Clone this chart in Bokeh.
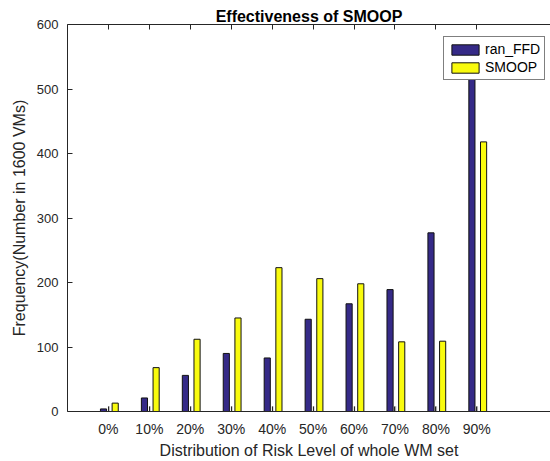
from bokeh.plotting import figure
from bokeh.models import ColumnDataSource, FixedTicker, LinearAxis, Range1d, Legend, LegendItem
from bokeh.transform import dodge
from bokeh.embed import file_html
from bokeh.resources import INLINE

# ---- data ----
categories = ["0%", "10%", "20%", "30%", "40%", "50%", "60%", "70%", "80%", "90%"]
positions = [1, 2, 3, 4, 5, 6, 7, 8, 9, 10]
ran_ffd = [4, 21, 56, 90, 83, 143, 167, 189, 277, 540]
smoop = [13, 68, 112, 145, 223, 206, 198, 108, 109, 418]
baseline = [8, 8, 8, 8, 8, 8, 8, 8, 8, 8]
y_ticks = [0, 100, 200, 300, 400, 500, 600]

src = ColumnDataSource(dict(x=positions, ran=ran_ffd, smoop=smoop, base=baseline))

FONT = "Liberation Sans"
AX = "#262626"

p = figure(width=550, height=461, output_backend="svg", toolbar_location=None,
           x_range=Range1d(0, 11.8), y_range=Range1d(0, 600),
           min_border_left=67, min_border_right=0, min_border_top=24, min_border_bottom=50,
           title="Effectiveness of SMOOP")
p.title.text_font = FONT
p.title.text_font_size = "16px"
p.title.text_font_style = "bold"
p.title.align = "center"
p.title.standoff = 0
p.title.text_color = "#000000"
p.outline_line_color = None
p.xgrid.visible = False
p.ygrid.visible = False
p.background_fill_color = "white"

r1 = p.vbar(x=dodge("x", -0.12, range=p.x_range), top="ran", width=0.15, bottom=0, source=src,
            fill_color="#352A87", line_color="#111111", line_width=1)
p.vbar(x=dodge("x", 0.01, range=p.x_range), top="base", width=0.04, bottom=0, source=src,
       fill_color="#a8a8a8", line_color=None)
r2 = p.vbar(x=dodge("x", 0.165, range=p.x_range), top="smoop", width=0.15, bottom=0, source=src,
            fill_color="#F9FB0E", line_color="#111111", line_width=1)

xa = p.xaxis[0]
xa.ticker = FixedTicker(ticks=positions)
xa.major_label_overrides = {pos: lab for pos, lab in zip(positions, categories)}
xa.axis_label = "Distribution of Risk Level of whole WM set"

ya = p.yaxis[0]
ya.ticker = FixedTicker(ticks=y_ticks)
ya.axis_label = "Frequency(Number in 1600 VMs)"

for ax in (xa, ya):
    ax.axis_line_color = AX
    ax.major_tick_line_color = AX
    ax.major_tick_in = 5
    ax.major_tick_out = 0
    ax.minor_tick_line_color = None
    ax.major_label_text_font = FONT
    ax.major_label_text_color = AX
    ax.axis_label_text_font = FONT
    ax.axis_label_text_font_size = "16px"
    ax.axis_label_text_font_style = "normal"
    ax.axis_label_text_color = AX
xa.major_label_text_font_size = "14px"
ya.major_label_text_font_size = "13px"
xa.major_label_standoff = 9
xa.axis_label_standoff = 2
ya.major_label_standoff = 9
ya.axis_label_standoff = 6

top_ax = LinearAxis(ticker=FixedTicker(ticks=positions),
                    major_label_overrides={pos: "" for pos in positions},
                    major_tick_in=5, major_tick_out=0, minor_tick_line_color=None,
                    axis_line_color=AX, major_tick_line_color=AX, major_label_standoff=0)
p.add_layout(top_ax, "above")

legend = Legend(items=[LegendItem(label="ran_FFD", renderers=[r1]),
                       LegendItem(label="SMOOP", renderers=[r2])],
                location=(376, 331))
legend.label_text_font = FONT
legend.label_text_font_size = "14px"
legend.label_text_color = "#000000"
legend.glyph_width = 34
legend.glyph_height = 13
legend.label_height = 13
legend.label_standoff = 3
legend.padding = 4
legend.spacing = 2
legend.margin = 0
legend.border_line_color = "#000000"
legend.border_line_width = 1
legend.background_fill_alpha = 1
p.add_layout(legend, "center")

open("out.html", "w").write(file_html(p, INLINE))
